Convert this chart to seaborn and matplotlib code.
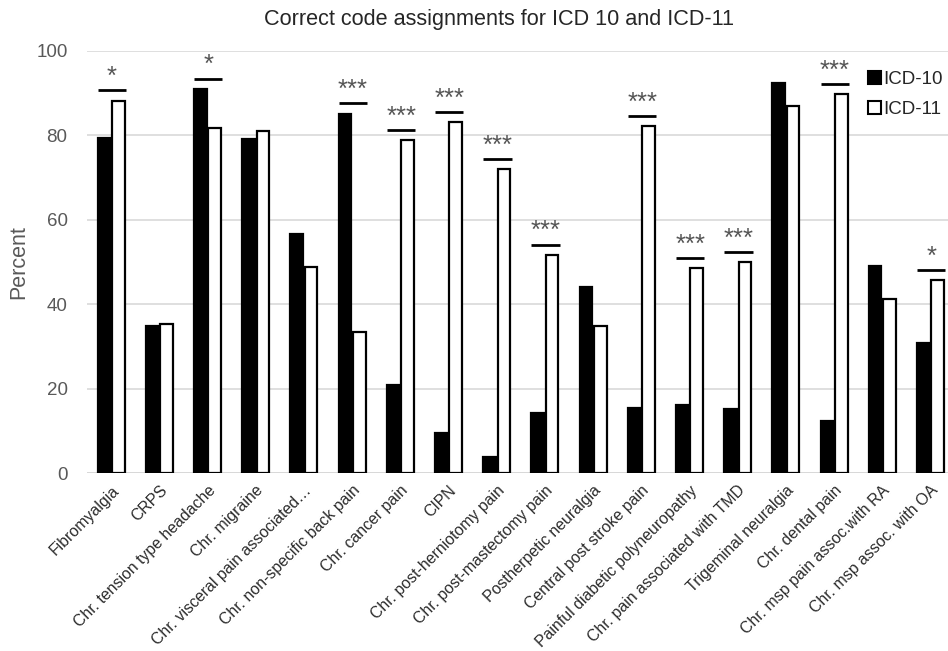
import matplotlib
matplotlib.use("Agg")
import matplotlib.pyplot as plt
from matplotlib.patches import Patch
import seaborn as sns
import pandas as pd

categories = [
    "Fibromyalgia", "CRPS", "Chr. tension type headache", "Chr. migraine",
    "Chr. visceral pain associated\u2026", "Chr. non-specific back pain",
    "Chr. cancer pain", "CIPN", "Chr. post-herniotomy pain",
    "Chr. post-mastectomy pain", "Postherpetic neuralgia",
    "Central post stroke pain", "Painful diabetic polyneuropathy",
    "Chr. pain associated with TMD", "Trigeminal neuralgia",
    "Chr. dental pain", "Chr. msp pain assoc.with RA", "Chr. msp assoc. with OA",
]
icd10 = [79.3, 34.9, 91.0, 79.0, 56.6, 85.1, 20.9, 9.4, 3.7, 14.1, 44.1,
         15.5, 16.0, 15.1, 92.3, 12.4, 49.1, 30.7]
icd11 = [88.2, 35.4, 81.8, 80.9, 48.7, 33.3, 78.8, 83.1, 72.0, 51.7, 34.9,
         82.1, 48.6, 49.9, 87.0, 89.7, 41.3, 45.7]
significance = ["*", "", "*", "", "", "***", "***", "***", "***", "***", "",
                "***", "***", "***", "", "***", "", "*"]
series = ["ICD-10", "ICD-11"]

df = pd.DataFrame({
    "category": categories * 2,
    "system": [series[0]] * len(categories) + [series[1]] * len(categories),
    "percent": icd10 + icd11,
})

sns.set_theme(style="white")
plt.rcParams["font.family"] = ["Liberation Sans", "DejaVu Sans"]

fig = plt.figure(figsize=(9.48, 6.51), dpi=100)
ax = fig.add_axes([87 / 948, 1 - 473 / 651, 867.6 / 948, 422.3 / 651])

sns.barplot(data=df, x="category", y="percent", hue="system",
            palette={"ICD-10": "black", "ICD-11": "white"},
            edgecolor="black", linewidth=1.6, width=0.6, gap=0.12,
            legend=False, ax=ax)

ax.set_ylim(0, 100)
ax.set_xlim(-0.5, len(categories) - 0.5)
ax.set_yticks([0, 20, 40, 60, 80, 100])
ax.yaxis.grid(True, color="#d9d9d9", linewidth=1.2)
ax.set_axisbelow(True)
for side in ["top", "right", "left", "bottom"]:
    ax.spines[side].set_visible(False)
ax.axhline(0, color="#d0d0d0", linewidth=1.2, zorder=0)

ax.tick_params(axis="both", length=0)
ax.tick_params(axis="y", labelsize=13.5, labelcolor="#595959", pad=14)
ax.set_xticks(range(len(categories)))
ax.set_xticklabels(categories, rotation=45, ha="right",
                   rotation_mode="anchor", fontsize=11.4, color="#2b2b2b")
ax.tick_params(axis="x", pad=7)

ax.set_xlabel("")
ax.set_ylabel("Percent", fontsize=15.5, color="#595959", labelpad=5)

# significance brackets above each pair
for i, mark in enumerate(significance):
    if not mark:
        continue
    top = max(icd10[i], icd11[i]) + 2.4
    ax.plot([i - 0.28, i + 0.31], [top, top], color="black", lw=2,
            solid_capstyle="butt", clip_on=False)
    ax.text(i + 0.02, top + 0.3, mark, ha="center", va="bottom",
            fontsize=18.5, color="#555555")

fig.text(498.5 / 948, 1 - 19 / 651, "Correct code assignments for ICD 10 and ICD-11",
         ha="center", va="center", fontsize=15.6, color="#262626")

handles = [Patch(facecolor="black", edgecolor="black", linewidth=1.5),
           Patch(facecolor="white", edgecolor="black", linewidth=1.5)]
fig.legend(handles, series, loc="upper left",
           bbox_to_anchor=(868 / 948, 1 - 71 / 651), frameon=False,
           fontsize=13.5, handlelength=0.68, handleheight=0.68,
           handletextpad=0.15, labelspacing=0.68, borderpad=0,
           borderaxespad=0, labelcolor="#262626")

fig.savefig("out.png", dpi=100)
